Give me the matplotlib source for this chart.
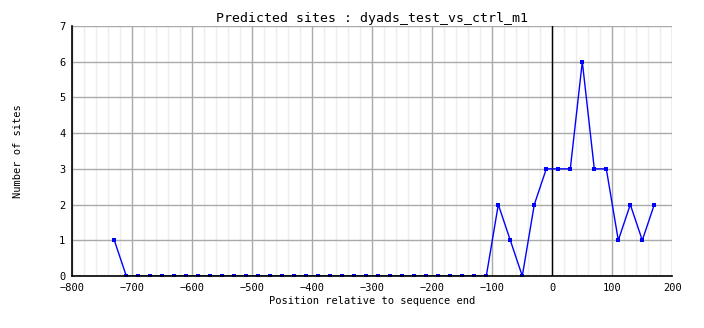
import matplotlib
matplotlib.use("Agg")
import matplotlib.pyplot as plt
from matplotlib.ticker import MultipleLocator

positions = [-730] + list(range(-710, -109, 20)) + [-90, -70, -50, -30, -10, 10, 30, 50, 70, 90, 110, 130, 150, 170]
zeros_count = len(range(-710, -109, 20))
counts = [1] + [0] * zeros_count + [2, 1, 0, 2, 3, 3, 3, 6, 3, 3, 1, 2, 1, 2]

title = "Predicted sites : dyads_test_vs_ctrl_m1"
xlabel = "Position relative to sequence end"
ylabel = "Number of sites"
xticks = list(range(-800, 201, 100))
yticks = list(range(0, 8))

plt.rcParams['font.family'] = ['DejaVu Sans Mono']

fig = plt.figure(figsize=(7.04, 3.28), dpi=100)
ax = fig.add_axes([72.3 / 704, 1 - 276 / 328, 600 / 704, 250 / 328])

ax.set_xlim(-800, 200)
ax.set_ylim(0, 7)
ax.set_xticks(xticks)
ax.set_yticks(yticks)
ax.xaxis.set_minor_locator(MultipleLocator(20))
ax.grid(which='major', color='#aaaaaa', linewidth=1.0, zorder=1)
ax.grid(which='minor', axis='x', color='#eeeeee', linewidth=1.0, zorder=0)
ax.set_axisbelow(True)

ax.axvline(0, color='black', linewidth=1.0, zorder=2)

ax.plot(positions, counts, color='#0000ff', linewidth=1.0, marker='s',
        markersize=2.5, markeredgewidth=0, zorder=3)

for s in ['top', 'right']:
    ax.spines[s].set_visible(False)
for s in ['left', 'bottom']:
    ax.spines[s].set_color('black')
    ax.spines[s].set_linewidth(1.2)
    ax.spines[s].set_zorder(4)

ax.tick_params(which='both', length=0, labelsize=7.5, pad=5)
ax.set_xlabel(xlabel, fontsize=7.5, labelpad=2)
ax.set_ylabel(ylabel, fontsize=7.5, labelpad=26)
ax.set_title(title, fontsize=9.5, pad=3)

fig.savefig("out.png", dpi=100)
